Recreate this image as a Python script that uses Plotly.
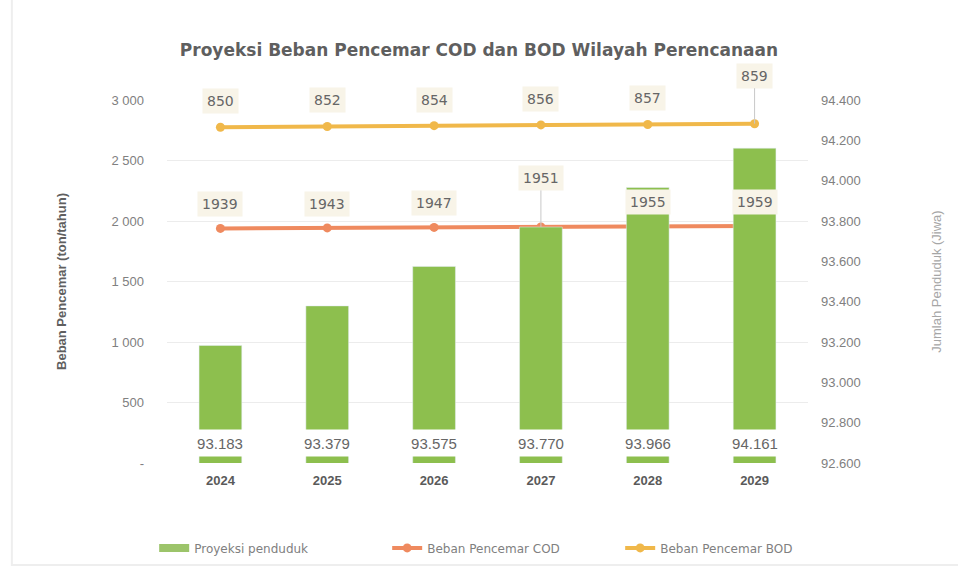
import plotly.graph_objects as go

years = ["2024", "2025", "2026", "2027", "2028", "2029"]
penduduk = [93183, 93379, 93575, 93770, 93966, 94161]
cod = [1939, 1943, 1947, 1951, 1955, 1959]
bod = [850, 852, 854, 856, 857, 859]

left_ticks = [0, 500, 1000, 1500, 2000, 2500, 3000]
left_ticktext = ["-", "500", "1 000", "1 500", "2 000", "2 500", "3 000"]
right_ticks = [92600, 92800, 93000, 93200, 93400, 93600, 93800, 94000, 94200, 94400]
right_ticktext = ["92.600", "92.800", "93.000", "93.200", "93.400", "93.600",
                  "93.800", "94.000", "94.200", "94.400"]

GREEN = "#8dbf4e"
ORANGE = "#ef8a5f"
GOLD = "#f0b84a"
GRAY = "#808080"
LBLC = "#666666"
FONT = "Liberation Sans, Arial, sans-serif"
WIDE = "DejaVu Sans, Liberation Sans, sans-serif"

fig = go.Figure()
fig.add_trace(go.Bar(x=years, y=penduduk, name="Proyeksi penduduk", marker_color=GREEN,
                     width=0.40, yaxis="y2", showlegend=False))
# legend entry for the bars drawn as a wide swatch
fig.add_trace(go.Scatter(x=[None], y=[None], name="Proyeksi penduduk", mode="lines",
                         line=dict(color="#9cc46a", width=8), yaxis="y2"))
fig.add_trace(go.Scatter(x=years, y=cod, name="Beban Pencemar COD", mode="lines+markers",
                         line=dict(color=ORANGE, width=4), marker=dict(size=9, color=ORANGE),
                         yaxis="y"))
fig.add_trace(go.Scatter(x=years, y=bod, name="Beban Pencemar BOD", mode="lines+markers",
                         line=dict(color=GOLD, width=4), marker=dict(size=9, color=GOLD),
                         yaxis="y3"))

annotations = []
for i, v in enumerate(cod):
    lead = (i == 3)
    annotations.append(dict(x=i, y=v, xref="x", yref="y", text=str(v), showarrow=True,
                            ax=0, ay=-49 if lead else -24, arrowhead=0, arrowwidth=1,
                            arrowcolor="#c8c8c8" if lead else "rgba(0,0,0,0)",
                            bgcolor="#f8f4e8", borderpad=4,
                            font=dict(family=WIDE, size=14, color=LBLC)))
for i, v in enumerate(bod):
    lead = (i == 5)
    annotations.append(dict(x=i, y=v, xref="x", yref="y3", text=str(v), showarrow=True,
                            ax=0, ay=-48 if lead else -26, arrowhead=0, arrowwidth=1,
                            arrowcolor="#c8c8c8" if lead else "rgba(0,0,0,0)",
                            bgcolor="#f8f4e8", borderpad=4,
                            font=dict(family=WIDE, size=14, color=LBLC)))
for i, v in enumerate(penduduk):
    annotations.append(dict(x=i, y=92600, xref="x", yref="y2", text=f"{v:,}".replace(",", "."),
                            showarrow=False, yanchor="bottom", yshift=6, width=60, height=24,
                            bgcolor="white", font=dict(family=FONT, size=15, color=LBLC)))

fig.update_layout(
    width=958, height=570,
    margin=dict(l=167, r=150, t=100, b=107, autoexpand=False),
    paper_bgcolor="white", plot_bgcolor="white",
    font=dict(family=FONT, color=GRAY, size=12),
    title=dict(text="Proyeksi Beban Pencemar COD dan BOD Wilayah Perencanaan",
               x=0.5, xanchor="center", y=0.912, yanchor="middle",
               font=dict(family=WIDE, size=17, color="#5f5f5f", weight="bold")),
    xaxis=dict(type="category", range=[-0.5, 5.5], showgrid=False, showline=False, ticks="",
               automargin=False, ticklabelstandoff=8,
               tickfont=dict(family=FONT, size=13, color="#5a5a5a", weight="bold")),
    yaxis=dict(range=[0, 3000], tickvals=left_ticks, ticktext=left_ticktext,
               showgrid=True, gridcolor="#ececec", gridwidth=1, zeroline=False,
               automargin=False,
               tickfont=dict(family=FONT, size=13, color=GRAY), ticklabelstandoff=22,
               title=dict(text="Beban Pencemar (ton/tahun)", standoff=41,
                          font=dict(family=FONT, size=13, color="#5f5f5f", weight="bold"))),
    yaxis2=dict(range=[92600, 94400], tickvals=right_ticks, ticktext=right_ticktext,
                overlaying="y", side="right", showgrid=False, zeroline=False,
                automargin=False,
                tickfont=dict(family=FONT, size=13, color=GRAY), ticklabelstandoff=12,
                title=dict(text="Jumlah Penduduk (Jiwa)", standoff=72,
                           font=dict(family=FONT, size=13, color="#a6a6a6"))),
    yaxis3=dict(range=[0, 919], overlaying="y", visible=False),
    legend=dict(orientation="h", x=-0.02, xanchor="left", y=-0.234, yanchor="middle",
                font=dict(family=WIDE, size=12, color=GRAY), entrywidth=188,
                bgcolor="rgba(0,0,0,0)", traceorder="normal"),
    annotations=annotations,
    shapes=[dict(type="rect", xref="paper", yref="paper", x0=-0.242, x1=1.4, y0=-0.281, y1=1.4,
                 line=dict(color="#eeeeee", width=2))],
)

fig.write_html("out.html", config={"displayModeBar": False},
               post_script="document.body.style.margin='0';")
